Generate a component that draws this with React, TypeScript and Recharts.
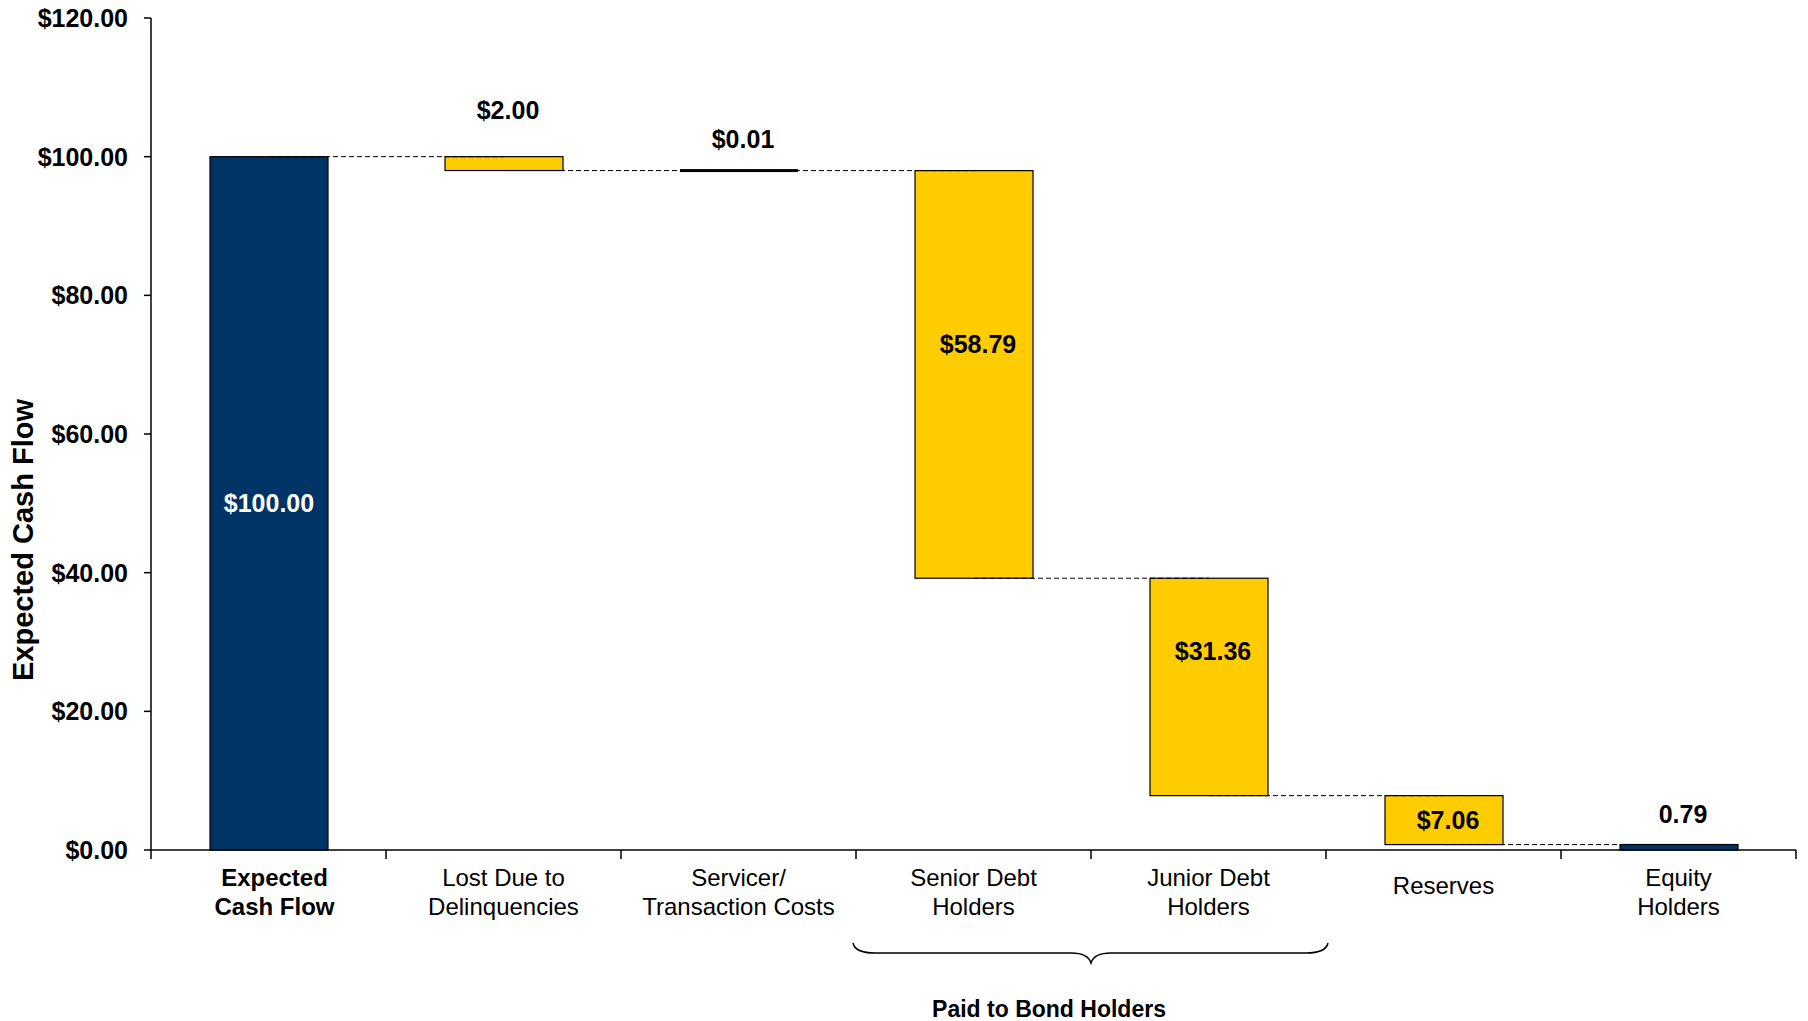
import React from 'react';
import { BarChart, Bar, XAxis, YAxis, LabelList } from 'recharts';

// categories ('\n' splits the axis label into lines)
const categories = [
  'Expected\nCash Flow',
  'Lost Due to\nDelinquencies',
  'Servicer/\nTransaction Costs',
  'Senior Debt\nHolders',
  'Junior Debt\nHolders',
  'Reserves',
  'Equity\nHolders',
];
const amounts = [100, 2.0, 0.01, 58.79, 31.36, 7.06, 0.79];
// 'total' bars stand on zero, 'step' bars hang from the running level
const barKinds = ['total', 'step', 'step', 'step', 'step', 'step', 'total'];
const valueLabels = ['$100.00', '$2.00', '$0.01', '$58.79', '$31.36', '$7.06', '0.79'];
const yTicks = [0, 20, 40, 60, 80, 100, 120];
const yAxisTitle = 'Expected Cash Flow';
const groupLabel = 'Paid to Bond Holders';

const NAVY = '#003366';
const GOLD = '#FFCC00';
const FONT = '"Liberation Sans", Arial, Helvetica, sans-serif';

const W = 1808;
const H = 1021;
const MARGIN = { top: 18, right: 12, left: 0, bottom: 0 };
const Y_AXIS_W = 151;
const X_AXIS_H = 171;
const BAND = (W - MARGIN.left - MARGIN.right - Y_AXIS_W) / categories.length;

// where each value label sits relative to its bar
const labelPlace = [
  { at: 'mid', dy: 0, color: '#fff' },
  { at: 'top', dy: -46, color: '#000' },
  { at: 'top', dy: -31, color: '#000' },
  { at: 'mid', dy: -30, color: '#000' },
  { at: 'mid', dy: -36, color: '#000' },
  { at: 'mid', dy: 0, color: '#000' },
  { at: 'top', dy: -30, color: '#000' },
];

// running levels -> floating ranges
const ranges: [number, number][] = [];
let level = 0;
amounts.forEach((amt, i) => {
  if (barKinds[i] === 'total') {
    ranges.push([0, amt]);
    level = amt;
  } else {
    ranges.push([level - amt, level]);
    level = +(level - amt).toFixed(2);
  }
});

const rows = categories.map((name, i) => ({
  name,
  range: ranges[i],
  label: valueLabels[i],
}));

const BarShape = (p: any) => {
  const { x, y, width, height, index } = p;
  const top = Math.min(y, y + height);
  const h = Math.abs(height);
  if (h < 3) {
    return <rect x={x} y={top + h / 2 - 1.5} width={width} height={3} fill="#000" />;
  }
  const fill = barKinds[index] === 'total' ? NAVY : GOLD;
  return <rect x={x} y={top} width={width} height={h} fill={fill} stroke="#000" strokeWidth={1.2} />;
};

// value label plus the dashed connector to the next bar's centre
const ValueLabel = (p: any) => {
  const { x, y, width, height, index, value } = p;
  const top = Math.min(y, y + height);
  const h = Math.abs(height);
  const place = labelPlace[index];
  const cy = place.at === 'top' ? top + place.dy : top + h / 2 + place.dy;
  const cx = x + width / 2;
  const lvY = barKinds[index] === 'total' ? top : top + h;
  return (
    <g>
      {index < categories.length - 1 && (
        <line x1={cx} y1={lvY} x2={cx + BAND} y2={lvY} stroke="#000" strokeWidth={1} strokeDasharray="5 3" />
      )}
      <text
        x={cx + (index === 0 ? 0 : 4)}
        y={cy}
        dy="0.35em"
        textAnchor="middle"
        fontFamily={FONT}
        fontSize={25}
        fontWeight="bold"
        fill={place.color}
      >
        {value}
      </text>
    </g>
  );
};

const CategoryTick = (p: any) => {
  const { x, y, payload, index } = p;
  const lines = String(payload.value).split('\n');
  const bold = index === 0;
  const ys = lines.length === 1 ? [36] : [28, 57];
  const left = x - BAND / 2;
  return (
    <g>
      <line x1={left} y1={y} x2={left} y2={y + 9} stroke="#000" strokeWidth={1.5} />
      {index === categories.length - 1 && (
        <line x1={x + BAND / 2} y1={y} x2={x + BAND / 2} y2={y + 9} stroke="#000" strokeWidth={1.5} />
      )}
      {lines.map((t, k) => (
        <text
          key={k}
          x={x + (index === 0 ? 6 : 0)}
          y={y + ys[k]}
          dy="0.35em"
          textAnchor="middle"
          fontFamily={FONT}
          fontSize={24}
          fontWeight={bold ? 'bold' : 'normal'}
          fill="#000"
        >
          {t}
        </text>
      ))}
      {index === 3 && (
        <g>
          <path
            d={`M ${left - 3} ${y + 93}
                Q ${left - 1} ${y + 103} ${left + 19} ${y + 103}
                L ${x + BAND / 2 - 20} ${y + 103}
                Q ${x + BAND / 2 - 3} ${y + 103} ${x + BAND / 2} ${y + 113}
                Q ${x + BAND / 2 + 3} ${y + 103} ${x + BAND / 2 + 20} ${y + 103}
                L ${x + BAND * 1.5 - 20} ${y + 103}
                Q ${x + BAND * 1.5} ${y + 103} ${x + BAND * 1.5 + 2} ${y + 93}`}
            fill="none"
            stroke="#000"
            strokeWidth={1.5}
          />
          <text
            x={x + BAND / 2 - 42}
            y={y + 159}
            dy="0.35em"
            textAnchor="middle"
            fontFamily={FONT}
            fontSize={23}
            fontWeight="bold"
            fill="#000"
          >
            {groupLabel}
          </text>
        </g>
      )}
    </g>
  );
};

const YTitle = () => (
  <text
    x={23}
    y={540}
    transform="rotate(-90 23 540)"
    dy="0.35em"
    textAnchor="middle"
    fontFamily={FONT}
    fontSize={29}
    fontWeight="bold"
    fill="#000"
  >
    {yAxisTitle}
  </text>
);

export default function App() {
  return (
    <div style={{ position: 'absolute', left: 0, top: 0, width: W, height: H, background: '#fff' }}>
      <BarChart width={W} height={H} data={rows} margin={MARGIN} barSize={118}>
        <XAxis
          dataKey="name"
          interval={0}
          height={X_AXIS_H}
          tickLine={false}
          tickSize={0}
          tickMargin={0}
          axisLine={{ stroke: '#000', strokeWidth: 1.5 }}
          tick={<CategoryTick />}
        />
        <YAxis
          width={Y_AXIS_W}
          domain={[0, 120]}
          ticks={yTicks}
          tickSize={7}
          tickMargin={16}
          axisLine={{ stroke: '#000', strokeWidth: 1.5 }}
          tickLine={{ stroke: '#000', strokeWidth: 1.5 }}
          tick={{ fontFamily: FONT, fontSize: 25, fontWeight: 'bold', fill: '#000' }}
          tickFormatter={(v: number) => `$${v.toFixed(2)}`}
          label={<YTitle />}
        />
        <Bar dataKey="range" shape={<BarShape />} isAnimationActive={false}>
          <LabelList dataKey="label" content={<ValueLabel />} />
        </Bar>
      </BarChart>
    </div>
  );
}
